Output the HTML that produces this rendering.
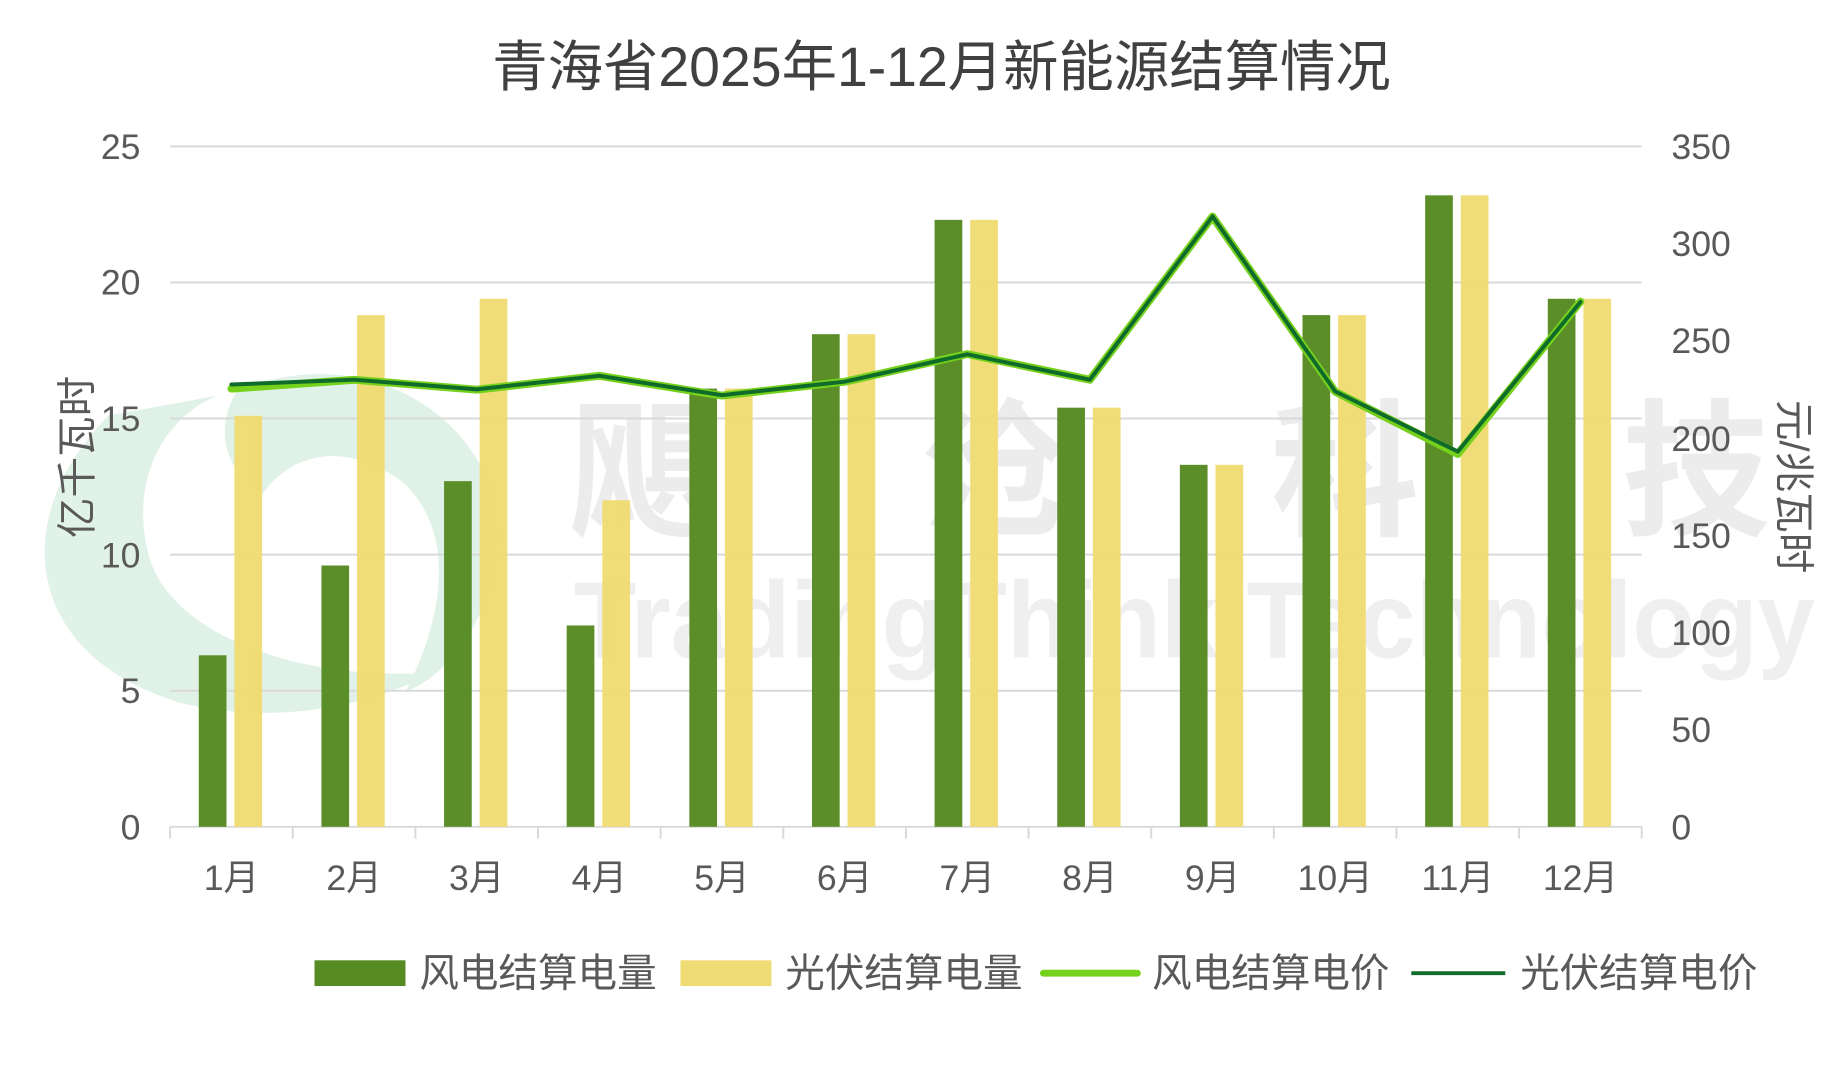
<!DOCTYPE html>
<html><head><meta charset="utf-8"><style>
html,body{margin:0;padding:0;background:#fff;}
svg{display:block;font-family:"Liberation Sans","Noto Sans CJK SC",sans-serif;}
</style></head><body>
<svg width="1840" height="1069" viewBox="0 0 1840 1069" xmlns="http://www.w3.org/2000/svg">
<rect width="1840" height="1069" fill="#fff"/>
<g transform="scale(0.989)">
<!-- watermark -->
<g opacity="0.6">
<path d="M110 420 C10 520 20 660 180 710 C300 740 400 700 440 680 C300 690 170 640 150 560 C130 480 170 420 220 400 Z" fill="#cdebd8"/>
<path d="M240 395 C350 350 460 400 495 490 C520 570 480 670 410 700 C450 620 460 540 410 490 C360 450 300 450 265 500 C220 470 220 425 240 395 Z" fill="#cdebd8"/>
</g>
<g fill="#ececec" font-size="150" font-weight="bold">
<text x="575" y="530">飓</text><text x="930" y="530">沧</text><text x="1285" y="530">科</text><text x="1640" y="530">技</text>
</g>
<text x="580" y="665" fill="#efefef" font-size="110" font-weight="bold" textLength="1255" lengthAdjust="spacingAndGlyphs">TradingThink Technology</text>
<text x="952" y="87" text-anchor="middle" font-size="56" fill="#404040">青海省2025年1-12月新能源结算情况</text>
<g stroke="#d9d9d9" stroke-width="2">
<line x1="172" x2="1660" y1="148" y2="148"/><line x1="172" x2="1660" y1="285.6" y2="285.6"/>
<line x1="172" x2="1660" y1="423.2" y2="423.2"/><line x1="172" x2="1660" y1="560.8" y2="560.8"/>
<line x1="172" x2="1660" y1="698.4" y2="698.4"/><line x1="172" x2="1660" y1="836" y2="836"/>
<line x1="172" x2="172" y1="836" y2="848"/><line x1="296" x2="296" y1="836" y2="848"/><line x1="420" x2="420" y1="836" y2="848"/><line x1="544" x2="544" y1="836" y2="848"/><line x1="668" x2="668" y1="836" y2="848"/><line x1="792" x2="792" y1="836" y2="848"/><line x1="916" x2="916" y1="836" y2="848"/><line x1="1040" x2="1040" y1="836" y2="848"/><line x1="1164" x2="1164" y1="836" y2="848"/><line x1="1288" x2="1288" y1="836" y2="848"/><line x1="1412" x2="1412" y1="836" y2="848"/><line x1="1536" x2="1536" y1="836" y2="848"/><line x1="1660" x2="1660" y1="836" y2="848"/>
</g>
<g fill="#595959" font-size="36">
<g text-anchor="end">
<text x="142" y="161">25</text><text x="142" y="298">20</text><text x="142" y="436">15</text><text x="142" y="574">10</text><text x="142" y="711">5</text><text x="142" y="849">0</text>
</g>
<text x="1690" y="161">350</text><text x="1690" y="259">300</text><text x="1690" y="357">250</text><text x="1690" y="456">200</text><text x="1690" y="554">150</text><text x="1690" y="652">100</text><text x="1690" y="750">50</text><text x="1690" y="849">0</text>
<g text-anchor="middle">
<text x="234" y="900">1月</text><text x="358" y="900">2月</text><text x="482" y="900">3月</text><text x="606" y="900">4月</text><text x="730" y="900">5月</text><text x="854" y="900">6月</text><text x="978" y="900">7月</text><text x="1102" y="900">8月</text><text x="1226" y="900">9月</text><text x="1350" y="900">10月</text><text x="1474" y="900">11月</text><text x="1598" y="900">12月</text>
</g>
<text transform="translate(92,462) rotate(-90)" text-anchor="middle" font-size="41">亿千瓦时</text>
<text transform="translate(1800,492) rotate(90)" text-anchor="middle" font-size="41">元/兆瓦时</text>
</g>
<g fill="#568a22" opacity="0.97">
<rect x="201" y="662.6" width="28" height="173.4"/><rect x="325" y="571.8" width="28" height="264.2"/><rect x="449" y="486.5" width="28" height="349.5"/><rect x="573" y="632.4" width="28" height="203.6"/><rect x="697" y="392.9" width="28" height="443.1"/><rect x="821" y="337.9" width="28" height="498.1"/><rect x="945" y="222.3" width="28" height="613.7"/><rect x="1069" y="412.2" width="28" height="423.8"/><rect x="1193" y="470" width="28" height="366"/><rect x="1317" y="318.6" width="28" height="517.4"/><rect x="1441" y="197.5" width="28" height="638.5"/><rect x="1565" y="302.1" width="28" height="533.9"/>
</g>
<g fill="#f0dc74" opacity="0.97">
<rect x="237" y="420.4" width="28" height="415.6"/><rect x="361" y="318.6" width="28" height="517.4"/><rect x="485" y="302.1" width="28" height="533.9"/><rect x="609" y="505.8" width="28" height="330.2"/><rect x="733" y="392.9" width="28" height="443.1"/><rect x="857" y="337.9" width="28" height="498.1"/><rect x="981" y="222.3" width="28" height="613.7"/><rect x="1105" y="412.2" width="28" height="423.8"/><rect x="1229" y="470" width="28" height="366"/><rect x="1353" y="318.6" width="28" height="517.4"/><rect x="1477" y="197.5" width="28" height="638.5"/><rect x="1601" y="302.1" width="28" height="533.9"/>
</g>
<polyline fill="none" stroke="#76d11c" stroke-width="8" stroke-linejoin="round" stroke-linecap="round" points="234,393 358,384 482,394 606,380 730,400 854,386 978,358 1102,384 1226,219 1350,396 1474,459 1598,305"/>
<polyline fill="none" stroke="#0e6b2a" stroke-width="4" stroke-linejoin="round" stroke-linecap="round" points="234,388.8 358,383.9 482,393.7 606,380 730,399.6 854,385.9 978,358.3 1102,383.9 1226,218.8 1350,395.7 1474,456.6 1598,305.3"/>
<g font-size="40" fill="#595959">
<rect x="318" y="971" width="92" height="26" fill="#568a22"/><text x="424" y="998">风电结算电量</text>
<rect x="688" y="971" width="92" height="26" fill="#f0dc74"/><text x="794" y="998">光伏结算电量</text>
<line x1="1055" x2="1150" y1="984" y2="984" stroke="#76d11c" stroke-width="7" stroke-linecap="round"/><text x="1165" y="998">风电结算电价</text>
<line x1="1427" x2="1522" y1="984" y2="984" stroke="#0e6b2a" stroke-width="4"/><text x="1537" y="998">光伏结算电价</text>
</g>
</g>
</svg>
</body></html>
